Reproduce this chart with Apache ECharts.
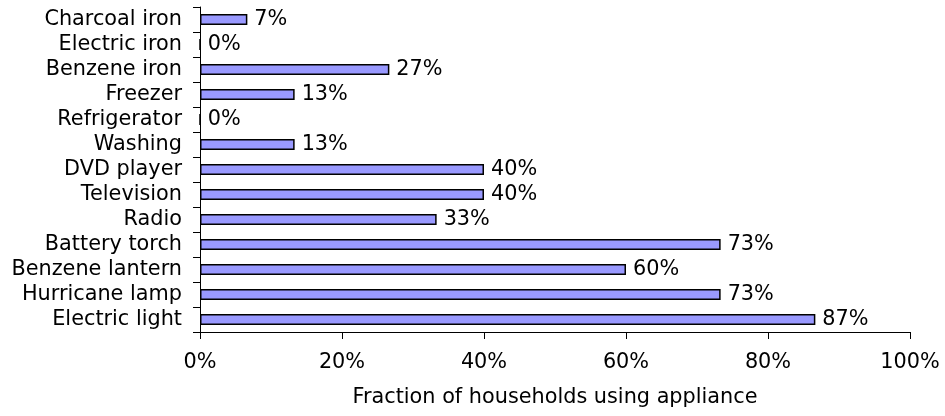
<!DOCTYPE html>
<html><head><meta charset="utf-8">
<script src="https://cdn.jsdelivr.net/npm/echarts@6/dist/echarts.min.js"></script>
<style>html,body{margin:0;padding:0;background:#fff}#c{width:945px;height:416px}</style>
</head><body><div id="c"></div>
<script>
const categories = ["Charcoal iron","Electric iron","Benzene iron","Freezer","Refrigerator","Washing","DVD player","Television","Radio","Battery torch","Benzene lantern","Hurricane lamp","Electric light"];
const values = [6.67, 0, 26.67, 13.33, 0, 13.33, 40, 40, 33.33, 73.33, 60, 73.33, 86.67];
const xTicks = [0, 20, 40, 60, 80, 100];
const xTitle = "Fraction of households using appliance";

const font = "DejaVu Sans, Verdana, sans-serif";
const fs = 20.8;
const chart = echarts.init(document.getElementById('c'), null, {renderer:'canvas'});
chart.setOption({
  animation:false,
  grid:{left:200, top:7, right:35, bottom:84, containLabel:false},
  xAxis:{type:'value', min:xTicks[0], max:xTicks[xTicks.length-1], interval:20,
    name:xTitle, nameLocation:'middle', nameGap:55,
    nameTextStyle:{fontFamily:font, fontSize:fs, color:'#000'},
    axisLine:{show:true, lineStyle:{color:'#000', width:1}},
    axisTick:{show:true, length:7, lineStyle:{color:'#000'}},
    axisLabel:{fontFamily:font, fontSize:fs, color:'#000', margin:20, formatter:v=>v+'%'},
    splitLine:{show:false}},
  yAxis:{type:'category', data:categories, inverse:true,
    axisLine:{show:true, lineStyle:{color:'#000', width:1}},
    axisTick:{show:true, length:7, lineStyle:{color:'#000'}},
    axisLabel:{fontFamily:font, fontSize:fs, color:'#000', margin:18, interval:0, hideOverlap:false}},
  series:[{type:'bar', data:values, barWidth:11,
    itemStyle:{color:'#9999FF', borderColor:'#000', borderWidth:1.5},
    label:{show:true, position:'right', distance:7, fontFamily:font, fontSize:fs, color:'#000',
      formatter:p=>Math.round(p.value)+'%'}}]
});
</script></body></html>
